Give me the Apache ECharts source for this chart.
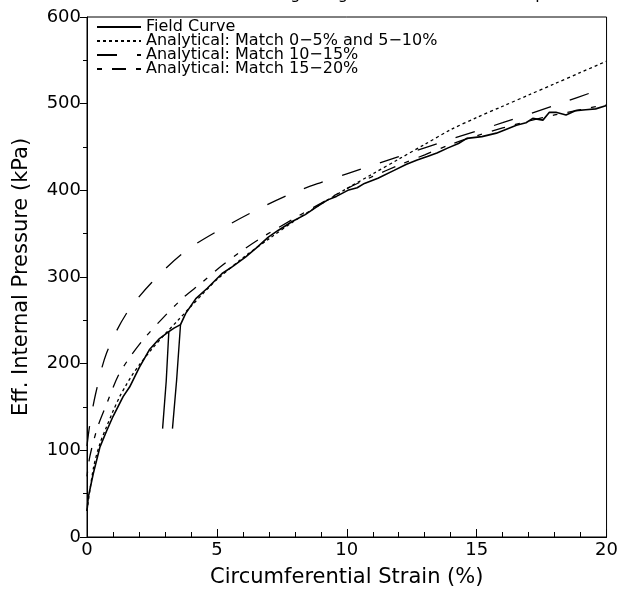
<!DOCTYPE html>
<html>
<head>
<meta charset="utf-8">
<script src="https://cdn.jsdelivr.net/npm/echarts@6/dist/echarts.min.js"></script>
<style>
html, body { margin: 0; padding: 0; background: #fff; }
#mainArea { width: 621px; height: 600px; }
</style>
</head>
<body>
<div id="mainArea"></div>
<script>
// field curve (strain %, pressure kPa)
var fieldCurve = [
	[0, 30], [0.05, 46], [0.24, 73], [0.5, 104], [0.75, 122], [1.0, 139], [1.39, 162], [1.64, 173],
	[2.02, 196], [2.4, 216], [2.79, 229], [3.15, 237], [3.35, 241], [3.6, 245], [3.8, 258],
	[4.19, 275], [4.63, 287], [5.2, 304], [5.6, 312], [6.1, 323], [6.5, 333], [6.98, 346], [7.37, 354],
	[7.9, 364], [8.4, 372], [8.9, 382], [9.27, 389], [9.6, 393], [10.04, 400], [10.4, 403],
	[10.68, 408], [11.2, 414], [11.82, 423], [12.3, 430], [12.71, 435], [13.1, 439], [13.47, 443],
	[13.9, 449], [14.3, 454], [14.62, 460], [15.2, 462], [15.76, 466], [16.1, 470], [16.53, 475],
	[16.9, 478], [17.16, 483], [17.55, 481], [17.8, 490], [18.05, 490], [18.44, 487],
	[18.82, 492], [19.2, 493], [19.58, 494], [20, 498]
];
// unload / reload legs of the loop near 3 %
var loopLeft = [[3.15, 237], [3.05, 180], [2.91, 125]];
var loopRight = [[3.6, 245], [3.45, 181], [3.29, 125]];

var match0to10 = [
	[0, 30], [0.25, 80], [0.5, 108], [0.75, 127], [1, 145], [1.26, 162], [1.5, 175], [1.7, 185],
	[2, 198], [2.5, 217], [3, 234], [3.5, 250], [4, 266], [4.5, 282], [5, 297], [6, 322],
	[7, 344], [8, 365], [9, 384], [10, 402], [11, 419], [12, 436], [13, 453], [14, 470],
	[15, 484], [16, 497], [17, 510], [18, 523], [19, 536], [20, 549]
];
var match10to15 = [
	[0, 105], [0.1, 128], [0.33, 165], [0.75, 212], [1.5, 257], [2.5, 294], [3.8, 330],
	[5.2, 356], [6.7, 380], [8, 398], [9, 409], [10, 419], [12, 439], [14, 459], [16, 478],
	[18, 498], [20, 519]
];
var match15to20 = [
	[0, 70], [0.11, 93], [0.4, 126], [0.75, 153], [1.2, 186], [1.64, 207], [2.2, 229],
	[2.9, 252], [3.7, 276], [4.4, 293], [5.1, 311], [5.9, 329], [6.7, 345], [8, 368],
	[9, 385], [10, 402], [11, 416], [12, 429], [13, 441], [14, 453], [15, 463], [16, 472],
	[17, 480], [18, 487], [19, 493], [20, 499]
];

var legendNames = ['Field Curve', 'Analytical: Match 0\u22125% and 5\u221210%',
	'Analytical: Match 10\u221215%', 'Analytical: Match 15\u221220%'];

var font = 'DejaVu Sans';

var myChart = echarts.init(document.getElementById('mainArea'));
var option = {
	animation: false,
	backgroundColor: '#fff',
	textStyle: { fontFamily: font, color: '#000' },
	grid: {
		left: 87, right: 10, top: 17, bottom: 63,
		show: true, borderColor: '#000', borderWidth: 1
	},
	legend: {
		data: legendNames,
		orient: 'vertical',
		left: 91, top: 14,
		itemWidth: 44, itemHeight: 8, itemGap: -2,
		itemStyle: { opacity: 0, borderWidth: 0 },
		textStyle: { fontFamily: font, fontSize: 16, color: '#000', lineHeight: 13 }
	},
	graphic: [
		{ type: 'text', left: 257, top: -13, style: { text: 'Laing Bridge Site', fontFamily: font, fontSize: 16, fill: '#000' } },
		{ type: 'text', left: 430, top: -13, style: { text: 'SBP05', fontFamily: font, fontSize: 16, fill: '#000' } },
		{ type: 'text', left: 513, top: -13, style: { text: 'Depth 3.5 m', fontFamily: font, fontSize: 16, fill: '#000' } }
	],
	xAxis: {
		type: 'value',
		min: 0, max: 20, interval: 5,
		name: 'Circumferential Strain (%)',
		nameLocation: 'middle', nameGap: 30,
		nameTextStyle: { fontFamily: font, fontSize: 21, color: '#000' },
		axisLine: { lineStyle: { color: '#000', width: 1 } },
		axisTick: { inside: true, length: 8, lineStyle: { color: '#000' } },
		minorTick: { show: true, splitNumber: 5, length: 5, lineStyle: { color: '#000' } },
		axisLabel: { fontFamily: font, fontSize: 18, color: '#000', margin: 4 },
		splitLine: { show: false }
	},
	yAxis: {
		type: 'value',
		min: 0, max: 600, interval: 100,
		name: 'Eff. Internal Pressure (kPa)',
		nameLocation: 'middle', nameGap: 55,
		nameTextStyle: { fontFamily: font, fontSize: 21, color: '#000' },
		axisLine: { lineStyle: { color: '#000', width: 1 } },
		axisTick: { inside: false, length: 7, lineStyle: { color: '#000' } },
		minorTick: { show: true, splitNumber: 2, length: 4, lineStyle: { color: '#000' } },
		axisLabel: { fontFamily: font, fontSize: 18, color: '#000', margin: 6 },
		splitLine: { show: false }
	},
	series: [
		{
			name: legendNames[0], type: 'line', data: fieldCurve, symbol: 'none',
			lineStyle: { color: '#000', width: 1.6, type: 'solid' }, itemStyle: { color: '#000' }
		},
		{
			type: 'line', data: loopLeft, symbol: 'none', silent: true,
			lineStyle: { color: '#000', width: 1.4 }
		},
		{
			type: 'line', data: loopRight, symbol: 'none', silent: true,
			lineStyle: { color: '#000', width: 1.4 }
		},
		{
			name: legendNames[1], type: 'line', data: match0to10, symbol: 'none', smooth: 0.3,
			lineStyle: { color: '#000', width: 1.3, type: [3, 3] }, itemStyle: { color: '#000' }
		},
		{
			name: legendNames[2], type: 'line', data: match10to15, symbol: 'none', smooth: 0.3,
			lineStyle: { color: '#000', width: 1.3, type: [20, 20] }, itemStyle: { color: '#000' }
		},
		{
			name: legendNames[3], type: 'line', data: match15to20, symbol: 'none', smooth: 0.3,
			lineStyle: { color: '#000', width: 1.3, type: [5, 10, 14, 10] }, itemStyle: { color: '#000' }
		}
	]
};
myChart.setOption(option);
</script>
</body>
</html>
